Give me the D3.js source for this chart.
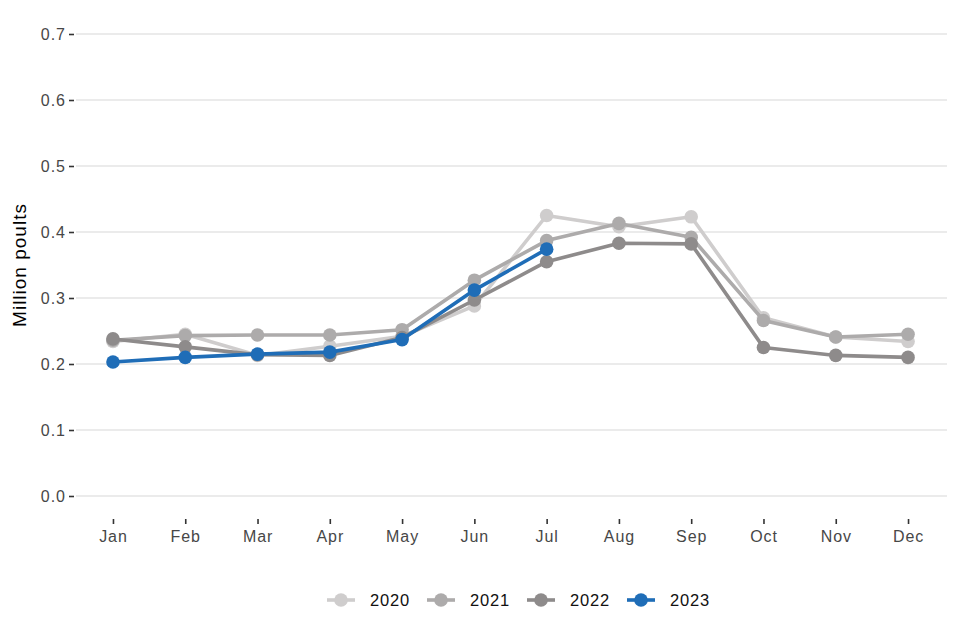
<!DOCTYPE html>
<html>
<head>
<meta charset="utf-8">
<script src="https://cdn.jsdelivr.net/npm/d3@7"></script>
<style>
  body { margin: 0; background: #fff; }
  svg { display: block; font-family: Arial, "Liberation Sans", sans-serif; }
</style>
</head>
<body>
<div id="chart"></div>
<script>
const months = ['Jan', 'Feb', 'Mar', 'Apr', 'May', 'Jun', 'Jul', 'Aug', 'Sep', 'Oct', 'Nov', 'Dec'];
const years = ['2020', '2021', '2022', '2023'];
const v2020 = [0.234, 0.245, 0.213, 0.227, 0.242, 0.288, 0.425, 0.408, 0.423, 0.270, 0.241, 0.234];
const v2021 = [0.236, 0.243, 0.244, 0.244, 0.252, 0.327, 0.387, 0.413, 0.392, 0.266, 0.241, 0.245];
const v2022 = [0.238, 0.226, 0.214, 0.213, 0.240, 0.297, 0.355, 0.383, 0.382, 0.225, 0.213, 0.210];
const v2023 = [0.203, 0.210, 0.215, 0.218, 0.237, 0.312, 0.374];
const yTicks = [0, 0.1, 0.2, 0.3, 0.4, 0.5, 0.6, 0.7];

const colors = { '2020': '#cfcdcd', '2021': '#adabab', '2022': '#8e8b8b', '2023': '#1f6db7' };
const series = [
  { year: '2020', values: v2020 },
  { year: '2021', values: v2021 },
  { year: '2022', values: v2022 },
  { year: '2023', values: v2023 },
];

const W = 960, H = 640;
const FONT = 'Arial, "Liberation Sans", sans-serif';
const svg = d3.select('#chart').append('svg').attr('width', W).attr('height', H);

const x = d3.scalePoint().domain(months).range([69.6, 951.4]).padding(0.6);
const y = d3.scaleLinear().domain([0, 0.7]).range([496, 34]);

// gridlines
svg.append('g')
  .selectAll('line')
  .data(yTicks)
  .join('line')
  .attr('x1', 76).attr('x2', 947)
  .attr('y1', (d) => y(d)).attr('y2', (d) => y(d))
  .attr('stroke', '#e5e5e5')
  .attr('stroke-width', 1.6);

// y axis
const yAxis = svg.append('g')
  .attr('transform', 'translate(74,0)')
  .call(d3.axisLeft(y).tickValues(yTicks).tickFormat(d3.format('.1f')).tickSize(5).tickPadding(3));
yAxis.select('.domain').remove();
yAxis.selectAll('.tick line').attr('stroke', '#333').attr('stroke-width', 1.6);
yAxis.selectAll('.tick text')
  .attr('fill', '#474747')
  .attr('font-size', '16px')
  .attr('letter-spacing', '1px')
  .attr('font-family', FONT);

// x axis
const xAxis = svg.append('g')
  .attr('transform', 'translate(0,519)')
  .call(d3.axisBottom(x).tickSize(5).tickPadding(7));
xAxis.select('.domain').remove();
xAxis.selectAll('.tick line').attr('stroke', '#333').attr('stroke-width', 1.6);
xAxis.selectAll('.tick text')
  .attr('fill', '#474747')
  .attr('font-size', '16px')
  .attr('letter-spacing', '0.9px')
  .attr('font-family', FONT);

// axis title
svg.append('text')
  .attr('transform', 'translate(25.5,265) rotate(-90)')
  .attr('text-anchor', 'middle')
  .attr('font-size', '19px')
  .attr('letter-spacing', '1px')
  .attr('fill', '#000')
  .text('Million poults');

const line = d3.line()
  .x((d, i) => x(months[i]))
  .y((d) => y(d));

const g = svg.append('g');
series.forEach((s) => {
  const sg = g.append('g');
  sg.append('path')
    .datum(s.values)
    .attr('d', line)
    .attr('fill', 'none')
    .attr('stroke', colors[s.year])
    .attr('stroke-width', 3.6)
    .attr('stroke-linejoin', 'round');
  sg.selectAll('circle')
    .data(s.values)
    .join('circle')
    .attr('cx', (d, i) => x(months[i]))
    .attr('cy', (d) => y(d))
    .attr('r', 6.8)
    .attr('fill', colors[s.year]);
});

// legend
const legend = svg.append('g').attr('transform', 'translate(0,600)');
const lx = d3.scalePoint().domain(years).range([341, 641]);
const item = legend.selectAll('g')
  .data(years)
  .join('g')
  .attr('transform', (d) => `translate(${lx(d)},0)`);
item.append('line')
  .attr('x1', -14).attr('x2', 14)
  .attr('stroke', (d) => colors[d])
  .attr('stroke-width', 3.6);
item.append('circle')
  .attr('r', 6.8)
  .attr('fill', (d) => colors[d]);
item.append('text')
  .attr('x', 29)
  .attr('y', 5.8)
  .attr('font-size', '16.5px')
  .attr('letter-spacing', '0.8px')
  .attr('fill', '#111')
  .text((d) => d);
</script>
</body>
</html>
